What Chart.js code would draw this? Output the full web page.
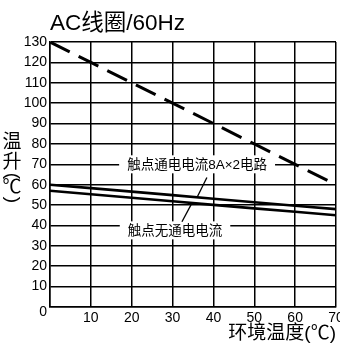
<!DOCTYPE html>
<html>
<head>
<meta charset="utf-8">
<script src="https://cdn.jsdelivr.net/npm/chart.js@4"></script>
<style>
    html, body { margin: 0; padding: 0; background: #fff; overflow: hidden; }
    #wrap { width: 340px; height: 345px; position: relative; }
</style>
</head>
<body>
<div id="wrap"><canvas id="chart" width="340" height="345"></canvas></div>
<script>
// Chart data
const temps = [0, 10, 20, 30, 40, 50, 60, 70];
const coilRise = [130, 120, 110, 100, 90, 80, 70, 60];
const rise8A = [60, 58.3, 56.6, 54.9, 53.1, 51.4, 49.7, 48];
const riseNoCurrent = [57, 55.3, 53.6, 51.9, 50.1, 48.4, 46.7, 45];
const xTicks = [0, 10, 20, 30, 40, 50, 60, 70];
const yTicks = [0, 10, 20, 30, 40, 50, 60, 70, 80, 90, 100, 110, 120, 130];

const titleText = 'AC线圈/60Hz';
const xTitle = '环境温度(℃)';
const yTitleChars = ['温', '升', '(', '℃', ')'];

// Callouts: label position and leader line in data units
const callouts = [
    { text: '触点通电电流8A×2电路', at: [36, 70], from: [38.4, 63.5], to: [36.1, 54.2] },
    { text: '触点无通电电流', at: [30.6, 37.6], from: [32.3, 41.8], to: [34.8, 51.2] }
];

const FONT = '"Liberation Sans", "Noto Sans CJK SC", sans-serif';

function toPoints(ys) {
    return temps.map((t, i) => ({ x: t, y: ys[i] }));
}

// Draws the vertical y title, the offset "0" label and the callouts
const extrasPlugin = {
    id: 'extras',
    afterDraw(chart) {
        const ctx = chart.ctx;
        const xs = chart.scales.x;
        const ys = chart.scales.y;
        ctx.save();

        // y axis title, stacked characters
        ctx.fillStyle = '#000';
        ctx.font = '19px ' + FONT;
        ctx.textAlign = 'center';
        ctx.textBaseline = 'middle';
        const yPos = [143, 163, 176, 188, 200];
        yTitleChars.forEach((ch, i) => {
            if (ch === '(' || ch === ')') {
                ctx.save();
                ctx.translate(12, yPos[i]);
                ctx.rotate(Math.PI / 2);
                ctx.fillText(ch, 0, 0);
                ctx.restore();
            } else {
                ctx.fillText(ch, 12, yPos[i]);
            }
        });

        // the "0" label sits a little below the axis line
        ctx.font = '14px ' + FONT;
        ctx.textAlign = 'right';
        ctx.fillText('0', xs.left - 3, ys.getPixelForValue(0) + 5);

        // callouts
        callouts.forEach(c => {
            const cx = xs.getPixelForValue(c.at[0]);
            const cy = ys.getPixelForValue(c.at[1]);
            ctx.font = '13.5px ' + FONT;
            const w = ctx.measureText(c.text).width;
            ctx.fillStyle = '#fff';
            ctx.fillRect(cx - w / 2 - 8, cy - 9, w + 16, 18);
            ctx.fillStyle = '#000';
            ctx.textAlign = 'center';
            ctx.fillText(c.text, cx, cy + 1);

            ctx.strokeStyle = '#000';
            ctx.lineWidth = 1.3;
            ctx.beginPath();
            ctx.moveTo(xs.getPixelForValue(c.from[0]), ys.getPixelForValue(c.from[1]));
            ctx.lineTo(xs.getPixelForValue(c.to[0]), ys.getPixelForValue(c.to[1]));
            ctx.stroke();
        });
        ctx.restore();
    }
};

const ctx = document.getElementById('chart').getContext('2d');
new Chart(ctx, {
    type: 'line',
    data: {
        datasets: [
            {
                data: toPoints(coilRise),
                borderColor: '#000',
                borderWidth: 3,
                borderDash: [22, 10],
                pointRadius: 0,
                tension: 0
            },
            {
                data: toPoints(rise8A),
                borderColor: '#000',
                borderWidth: 2.6,
                pointRadius: 0,
                tension: 0
            },
            {
                data: toPoints(riseNoCurrent),
                borderColor: '#000',
                borderWidth: 2.6,
                pointRadius: 0,
                tension: 0
            }
        ]
    },
    options: {
        responsive: false,
        animation: false,
        events: [],
        layout: { padding: { top: 0, right: 4, bottom: 0, left: 0 } },
        plugins: {
            legend: { display: false },
            tooltip: { enabled: false },
            title: {
                display: true,
                text: titleText,
                align: 'start',
                fullSize: false,
                color: '#000',
                font: { family: FONT, size: 22.5, weight: 'normal' },
                padding: { top: 10, bottom: 5 }
            }
        },
        scales: {
            x: {
                type: 'linear',
                min: 0,
                max: 70,
                afterBuildTicks: s => { s.ticks = xTicks.map(v => ({ value: v })); },
                afterFit: s => { s.paddingLeft = 0; s.paddingRight = 0; s.height = 38; },
                grid: { color: '#000', lineWidth: 1.5, drawTicks: false },
                border: { color: '#000', width: 1.5 },
                ticks: {
                    color: '#000',
                    padding: 3,
                    maxRotation: 0,
                    font: { family: FONT, size: 14 },
                    callback: v => (v === 0 ? '' : String(v))
                },
                title: {
                    display: true,
                    text: xTitle,
                    align: 'end',
                    color: '#000',
                    font: { family: FONT, size: 19 },
                    padding: { top: 0, bottom: 0 }
                }
            },
            y: {
                min: 0,
                max: 130,
                afterBuildTicks: s => { s.ticks = yTicks.map(v => ({ value: v })); },
                afterFit: s => { s.width = 50; s.paddingTop = 0; s.paddingBottom = 0; },
                grid: { color: '#000', lineWidth: 1.5, drawTicks: false },
                border: { color: '#000', width: 1.5 },
                ticks: {
                    color: '#000',
                    padding: 3,
                    font: { family: FONT, size: 14 },
                    callback: v => (v === 0 ? '' : String(v))
                }
            }
        }
    },
    plugins: [extrasPlugin]
});
</script>
</body>
</html>
